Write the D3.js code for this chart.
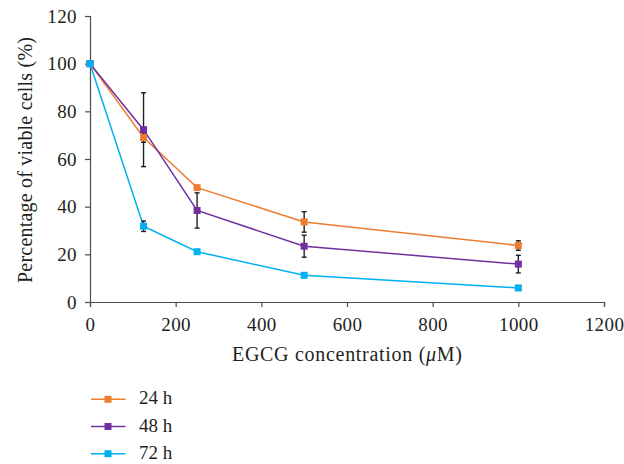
<!DOCTYPE html>
<html>
<head>
<meta charset="utf-8">
<script src="https://cdn.jsdelivr.net/npm/d3@7"></script>
<style>
  body { margin: 0; background: #fff; }
</style>
</head>
<body>
<div id="chart"></div>
<script>
const concentrations = [0, 125, 250, 500, 1000];
const seriesNames = ["24 h", "48 h", "72 h"];
const seriesColors = ["#ed7d31", "#7030a0", "#00b0f0"];
const values24 = [100, 69, 48, 33.6, 23.7];
const values48 = [100, 72.3, 38.4, 23.4, 15.9];
const values72 = [100, 31.8, 21.1, 11.2, 5.9];
const errors24 = [0, 2, 0.6, 4.3, 2];
const errors48 = [0, 15.5, 7.4, 4.6, 3.7];
const errors72 = [0, 2.2, 0.5, 0.5, 0.4];
const xTicks = [0, 200, 400, 600, 800, 1000, 1200];
const yTicks = [0, 20, 40, 60, 80, 100, 120];

const series = seriesNames.map((name, i) => ({
  name: name,
  color: seriesColors[i],
  values: [values24, values48, values72][i],
  errors: [errors24, errors48, errors72][i]
}));

const FONT = '"Liberation Serif", "DejaVu Serif", serif';
const TEXT_COLOR = '#231f20';
const width = 624, height = 464;
const margin = {top: 16, right: 20, bottom: 162, left: 90};

const svg = d3.select('#chart').append('svg')
  .attr('width', width)
  .attr('height', height)
  .style('font-family', FONT);

const x = d3.scaleLinear()
  .domain([0, 1200])
  .range([margin.left, 604]);

const y = d3.scaleLinear()
  .domain([0, 120])
  .range([height - margin.bottom, margin.top]);

// axes
const xAxis = svg.append('g')
  .attr('transform', 'translate(0,' + y(0) + ')')
  .call(d3.axisBottom(x).tickValues(xTicks).tickSize(5).tickFormat(d3.format('d')));
xAxis.selectAll('text').attr('y', 29).attr('dy', 0);

const yAxis = svg.append('g')
  .attr('transform', 'translate(' + x(0) + ',0)')
  .call(d3.axisLeft(y).tickValues(yTicks).tickSize(5).tickPadding(8));

[xAxis, yAxis].forEach(a => {
  a.attr('font-family', null).attr('font-size', null);
  a.selectAll('text')
    .style('font-family', FONT)
    .style('font-size', '19px')
    .style('letter-spacing', '0.4px')
    .attr('fill', TEXT_COLOR);
});

svg.selectAll('.domain, .tick line').attr('stroke', '#4d4d4d').attr('stroke-width', 1.2);

// axis titles
svg.append('text')
  .attr('x', 232)
  .attr('y', 361)
  .attr('textLength', 230)
  .attr('lengthAdjust', 'spacing')
  .attr('fill', TEXT_COLOR)
  .style('font-family', FONT)
  .style('font-size', '20px')
  .html('EGCG concentration (<tspan font-style="italic">μ</tspan>M)');

svg.append('text')
  .attr('transform', 'translate(32,283) rotate(-90)')
  .attr('textLength', 246)
  .attr('lengthAdjust', 'spacing')
  .attr('fill', TEXT_COLOR)
  .style('font-family', FONT)
  .style('font-size', '20px')
  .text('Percentage of viable cells (%)');

const line = d3.line()
  .x((d, i) => x(concentrations[i]))
  .y(d => y(d));

const plot = svg.append('g');

series.forEach(s => {
  plot.append('path')
    .datum(s.values)
    .attr('fill', 'none')
    .attr('stroke', s.color)
    .attr('stroke-width', 1.5)
    .attr('d', line);
});

// error bars
series.forEach(s => {
  const eb = plot.append('g');
  s.values.forEach((v, i) => {
    const e = s.errors[i];
    if (e <= 0) return;
    const cx = x(concentrations[i]);
    eb.append('line')
      .attr('x1', cx).attr('x2', cx)
      .attr('y1', y(v + e)).attr('y2', y(v - e))
      .attr('stroke', '#231f20').attr('stroke-width', 1.4);
    [v + e, v - e].forEach(t => {
      eb.append('line')
        .attr('x1', cx - 2.5).attr('x2', cx + 2.5)
        .attr('y1', y(t)).attr('y2', y(t))
        .attr('stroke', '#231f20').attr('stroke-width', 1.4);
    });
  });
});

// markers
series.forEach(s => {
  plot.append('g').selectAll('rect')
    .data(s.values)
    .enter()
    .append('rect')
    .attr('x', (d, i) => x(concentrations[i]) - 3.5)
    .attr('y', d => y(d) - 3.5)
    .attr('width', 7)
    .attr('height', 7)
    .attr('fill', s.color);
});

// legend
const legend = svg.append('g');
series.forEach((s, i) => {
  const ly = 399.3 + i * 27.2;
  legend.append('line')
    .attr('x1', 91).attr('x2', 125.5)
    .attr('y1', ly).attr('y2', ly)
    .attr('stroke', s.color).attr('stroke-width', 1.5);
  legend.append('rect')
    .attr('x', 104.5).attr('y', ly - 3.5)
    .attr('width', 7).attr('height', 7)
    .attr('fill', s.color);
  legend.append('text')
    .attr('x', 139).attr('y', ly + 5)
    .attr('fill', TEXT_COLOR)
    .style('font-family', FONT)
    .style('font-size', '19px')
    .text(s.name);
});
</script>
</body>
</html>
